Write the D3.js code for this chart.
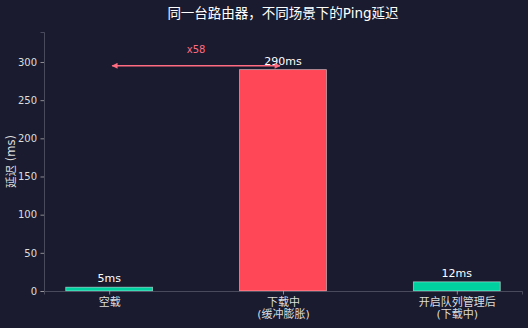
<!DOCTYPE html>
<html>
<head>
<meta charset="utf-8">
<script src="https://cdn.jsdelivr.net/npm/d3@7"></script>
<style>
  html, body { margin: 0; padding: 0; background: #1a1b2e; }
  svg { display: block; }
  text { font-family: "DejaVu Sans", "Noto Sans CJK SC", sans-serif; }
</style>
</head>
<body>
<svg id="chart"></svg>
<script>
// Data
const categories = ['空载', '下载中\n(缓冲膨胀)', '开启队列管理后\n(下载中)'];
const latency = [5, 290, 12];
const barColors = ['#00d0a0', '#ff4757', '#00d0a0'];
const yTicks = [0, 50, 100, 150, 200, 250, 300];
const ratioLabel = 'x58';

const WIDTH = 528, HEIGHT = 328;
const margin = { top: 32, right: 6, bottom: 37, left: 44 };

const svg = d3.select('#chart')
  .attr('width', WIDTH)
  .attr('height', HEIGHT);

svg.append('rect')
  .attr('width', WIDTH).attr('height', HEIGHT)
  .attr('fill', '#1a1b2e');

// Scales (matplotlib-like linear x with 5% margins)
const x = d3.scaleLinear()
  .domain([-0.375, categories.length - 1 + 0.375])
  .range([margin.left, WIDTH - margin.right]);

const y = d3.scaleLinear()
  .domain([0, 290 * 1.17])
  .range([HEIGHT - margin.bottom, margin.top]);

const barW = x(0.5) - x(0);

// Title
svg.append('text')
  .attr('x', (margin.left + WIDTH - margin.right) / 2)
  .attr('y', 18)
  .attr('text-anchor', 'middle')
  .attr('fill', '#ffffff')
  .attr('font-size', 13.5)
  .text('同一台路由器，不同场景下的Ping延迟');

// Bars
svg.selectAll('rect.bar')
  .data(latency)
  .enter().append('rect')
    .attr('class', 'bar')
    .attr('x', (d, i) => x(i) - barW / 2)
    .attr('y', d => y(d))
    .attr('width', barW)
    .attr('height', d => y(0) - y(d))
    .attr('fill', (d, i) => barColors[i])
    .attr('stroke', 'rgba(255,255,255,0.55)')
    .attr('stroke-width', 0.8);

// Value labels
svg.selectAll('text.val')
  .data(latency)
  .enter().append('text')
    .attr('class', 'val')
    .attr('x', (d, i) => x(i))
    .attr('y', d => y(d) - 5)
    .attr('text-anchor', 'middle')
    .attr('fill', '#ffffff')
    .attr('font-size', 11)
    .text(d => d + 'ms');

// Y axis
const yAxis = svg.append('g')
  .attr('transform', 'translate(' + margin.left + ',0)')
  .call(d3.axisLeft(y).tickValues(yTicks).tickSize(3.5).tickPadding(3.5));

// X axis
const xAxis = svg.append('g')
  .attr('transform', 'translate(0,' + (HEIGHT - margin.bottom) + ')')
  .call(d3.axisBottom(x).tickValues(d3.range(categories.length)).tickSize(3.5).tickFormat(''));

[yAxis, xAxis].forEach(ax => {
  ax.select('.domain').attr('stroke', '#55586a').attr('stroke-width', 0.8);
  ax.selectAll('.tick line').attr('stroke', '#aaaaaa').attr('stroke-width', 0.8);
  ax.selectAll('.tick text').attr('fill', '#dddddd').attr('font-size', 10)
    .style('font-family', '"DejaVu Sans", "Noto Sans CJK SC", sans-serif');
});

// Category labels (two lines)
xAxis.selectAll('.tick').each(function(d) {
  const lines = categories[d].split('\n');
  const t = d3.select(this).append('text')
    .attr('fill', '#dddddd')
    .attr('font-size', 11)
    .attr('text-anchor', 'middle')
    .style('font-family', '"DejaVu Sans", "Noto Sans CJK SC", sans-serif');
  lines.forEach((ln, k) => {
    t.append('tspan').attr('x', 0).attr('y', 15 + k * 12).text(ln);
  });
});

// Y label
svg.append('text')
  .attr('transform', 'translate(15,' + ((margin.top + HEIGHT - margin.bottom) / 2) + ') rotate(-90)')
  .attr('text-anchor', 'middle')
  .attr('fill', '#dddddd')
  .attr('font-size', 11.5)
  .text('延迟 (ms)');

// Ratio annotation arrow
const arrowColor = '#ff6b81';
const defs = svg.append('defs');
defs.append('marker')
  .attr('id', 'ah')
  .attr('viewBox', '0 0 10 10')
  .attr('refX', 9).attr('refY', 5)
  .attr('markerWidth', 7).attr('markerHeight', 6)
  .attr('markerUnits', 'userSpaceOnUse')
  .attr('orient', 'auto-start-reverse')
  .append('path')
    .attr('d', 'M0,0 L10,5 L0,10 Z')
    .attr('fill', arrowColor);

const arrowY = y(295);
svg.append('line')
  .attr('x1', x(0) + 3).attr('x2', x(1) - 3)
  .attr('y1', arrowY).attr('y2', arrowY)
  .attr('stroke', arrowColor)
  .attr('stroke-width', 1.5)
  .attr('marker-start', 'url(#ah)')
  .attr('marker-end', 'url(#ah)');

svg.append('text')
  .attr('x', x(0.5))
  .attr('y', y(312))
  .attr('text-anchor', 'middle')
  .attr('fill', arrowColor)
  .attr('font-size', 10)
  .text(ratioLabel);
</script>
</body>
</html>
